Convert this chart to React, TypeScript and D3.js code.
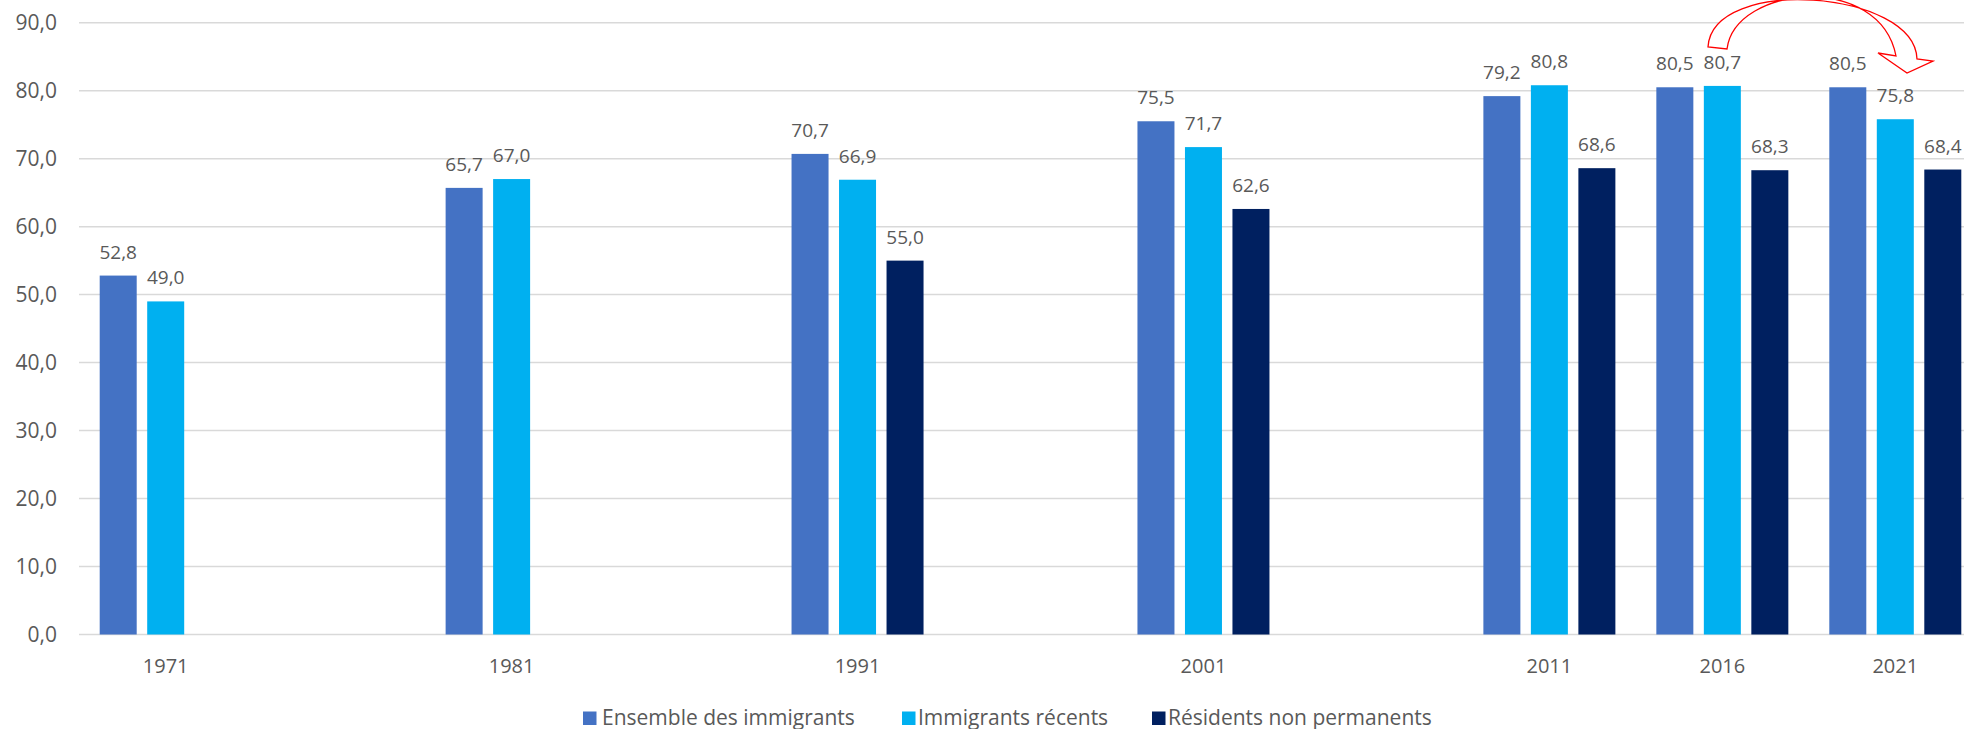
import React from "react";
import * as d3 from "d3";

const years = [1971, 1981, 1991, 2001, 2011, 2016, 2021];
const seriesNames = ["Ensemble des immigrants", "Immigrants récents", "Résidents non permanents"];
const ensemble = [52.8, 65.7, 70.7, 75.5, 79.2, 80.5, 80.5];
const recents = [49.0, 67.0, 66.9, 71.7, 80.8, 80.7, 75.8];
const nonPermanents: (number | null)[] = [null, null, 55.0, 62.6, 68.6, 68.3, 68.4];
const yTicks = [0, 10, 20, 30, 40, 50, 60, 70, 80, 90];
const colors = ["#4472C4", "#00B0F0", "#002060"];

const W = 1964;
const H = 729;
const TEXT = "#595959";
const FONT = "'Open Sans', 'Liberation Sans', sans-serif";

export default function App() {
  const x = d3.scaleLinear().domain([1971, 2021]).range([165.7, 1895.3]);
  const y = d3.scaleLinear().domain([0, 90]).range([634.5, 22.7]);
  const offsets = d3.scaleBand<number>().domain([0, 1, 2]).range([-66, 66]).paddingInner(0.221).paddingOuter(0);
  const bw = offsets.bandwidth();
  const fmt = (v: number) => d3.format(".1f")(v).replace(".", ",");
  const series = [ensemble, recents, nonPermanents];

  const legendItems = [
    { sq: 583, tx: 602 },
    { sq: 902, tx: 918 },
    { sq: 1152, tx: 1168 },
  ];

  // Curved block arrow (outline)
  const arrow = d3.path();
  arrow.moveTo(1708, 47);
  arrow.bezierCurveTo(1712, -25, 1915, -10, 1917, 59);
  arrow.lineTo(1933, 61);
  arrow.lineTo(1907, 73);
  arrow.lineTo(1878, 53);
  arrow.lineTo(1896, 56);
  arrow.bezierCurveTo(1880, -28, 1735, -15, 1727, 49);
  arrow.closePath();

  return (
    <svg
      width={W}
      height={H}
      style={{ position: "absolute", left: 0, top: 0, background: "#fff" }}
      fontFamily={FONT}
    >
      {yTicks.map((t) => (
        <line
          key={"g" + t}
          x1={79}
          x2={W}
          y1={y(t)}
          y2={y(t)}
          stroke="#d9d9d9"
          strokeWidth={1.5}
        />
      ))}
      {yTicks.map((t) => (
        <text
          key={"yl" + t}
          x={57}
          y={y(t) + 7.5}
          textAnchor="end"
          fontSize={21}
          fill={TEXT}
        >
          {fmt(t)}
        </text>
      ))}
      {series.map((vals, si) =>
        vals.map((v, i) =>
          v == null ? null : (
            <rect
              key={`b${si}-${i}`}
              x={x(years[i]) + (offsets(si) as number)}
              y={y(v)}
              width={bw}
              height={y(0) - y(v)}
              fill={colors[si]}
            />
          )
        )
      )}
      {series.map((vals, si) =>
        vals.map((v, i) =>
          v == null ? null : (
            <text
              key={`l${si}-${i}`}
              x={x(years[i]) + (offsets(si) as number) + bw / 2}
              y={y(v) - 17}
              textAnchor="middle"
              fontSize={19}
              fill={TEXT}
            >
              {fmt(v)}
            </text>
          )
        )
      )}
      {years.map((yr) => (
        <text
          key={"x" + yr}
          x={x(yr)}
          y={672.7}
          textAnchor="middle"
          fontSize={20}
          fill={TEXT}
        >
          {yr}
        </text>
      ))}
      <path d={arrow.toString()} fill="#fff" stroke="#FF0000" strokeWidth={1.3} strokeLinejoin="miter" />
      {seriesNames.map((n, i) => (
        <g key={"lg" + i}>
          <rect x={legendItems[i].sq} y={711.5} width={13.5} height={13.5} fill={colors[i]} />
          <text x={legendItems[i].tx} y={724.5} fontSize={21} fill={TEXT}>
            {n}
          </text>
        </g>
      ))}
    </svg>
  );
}
